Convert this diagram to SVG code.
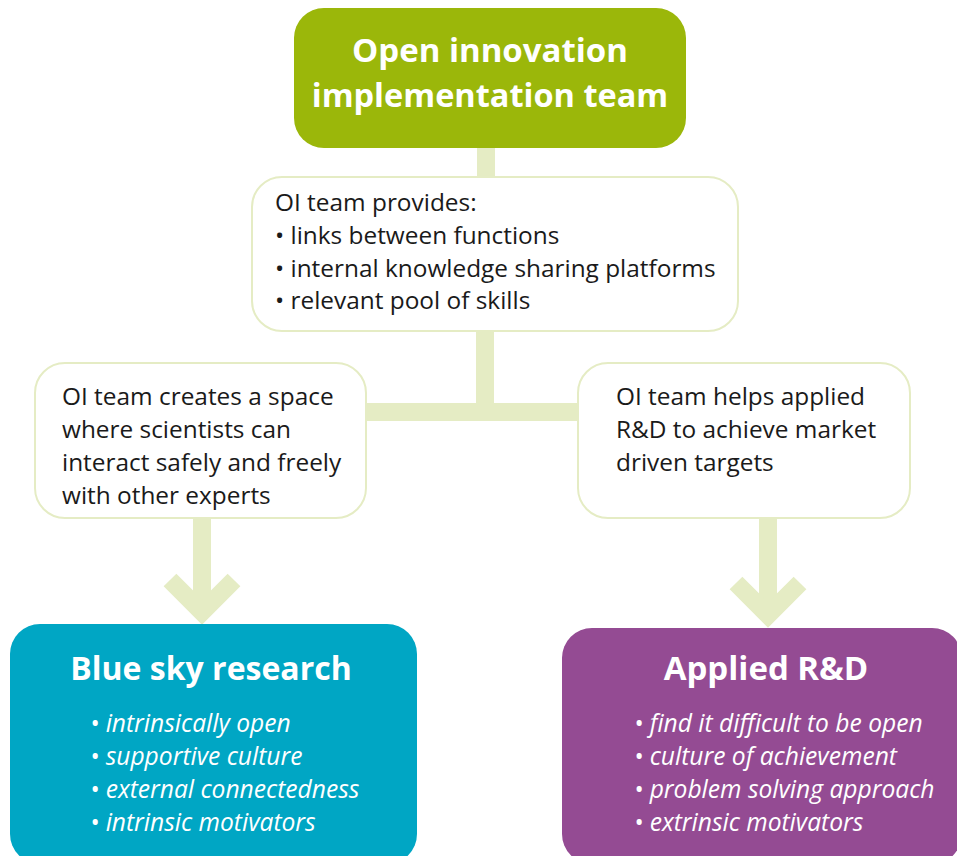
<svg xmlns="http://www.w3.org/2000/svg" width="957" height="856" viewBox="0 0 957 856">
<style>
.conn{fill:none;stroke:#e5ecc4;stroke-width:18}
.panel{fill:#ffffff;stroke:#e5ecc4;stroke-width:2}
.body{font-family:"Open Sans","Liberation Sans",sans-serif;font-size:24.4px;fill:#1a1a1a}
.title{font-family:"Open Sans","Liberation Sans",sans-serif;font-weight:bold;fill:#ffffff;text-anchor:middle}
.item{font-family:"Open Sans","Liberation Sans",sans-serif;font-size:24.6px;font-style:italic;fill:#ffffff}
</style>
<rect width="957" height="856" fill="#ffffff"/>
<g id="connectors">
<line class="conn" x1="486" y1="140" x2="486" y2="180"/>
<line class="conn" x1="485" y1="330" x2="485" y2="412"/>
<line class="conn" x1="360" y1="412" x2="585" y2="412"/>
<line class="conn" x1="202" y1="516" x2="202" y2="610"/>
<polyline class="conn" points="170,580 202,612 234,580" style="stroke-linejoin:miter"/>
<line class="conn" x1="768" y1="516" x2="768" y2="614"/>
<polyline class="conn" points="736,583 768,615 800,583" style="stroke-linejoin:miter"/>
</g>
<g id="oi-team">
<rect x="294" y="8" width="392" height="140" rx="30" fill="#9bb70a"/>
<text class="title" font-size="33" x="490" y="62">Open innovation</text>
<text class="title" font-size="32.5" x="490" y="107">implementation team</text>
</g>
<g id="provides">
<rect class="panel" x="252" y="177" width="486" height="154" rx="30"/>
<text class="body" x="275" y="211">OI team provides:</text>
<text class="body" x="275" y="244">• links between functions</text>
<text class="body" x="275" y="277">• internal knowledge sharing platforms</text>
<text class="body" x="275" y="309">• relevant pool of skills</text>
</g>
<g id="space">
<rect class="panel" x="35" y="363" width="331" height="155" rx="30"/>
<text class="body" x="62" y="405">OI team creates a space</text>
<text class="body" x="62" y="438">where scientists can</text>
<text class="body" x="62" y="471">interact safely and freely</text>
<text class="body" x="62" y="504">with other experts</text>
</g>
<g id="helps">
<rect class="panel" x="578" y="363" width="332" height="155" rx="30"/>
<text class="body" x="616" y="405">OI team helps applied</text>
<text class="body" x="616" y="438">R&amp;D to achieve market</text>
<text class="body" x="616" y="471">driven targets</text>
</g>
<g id="blue-sky">
<rect x="10" y="624" width="407" height="240" rx="30" fill="#00a6c4"/>
<text class="title" font-size="32" x="211" y="680">Blue sky research</text>
<text class="item" x="90" y="732">• intrinsically open</text>
<text class="item" x="90" y="765">• supportive culture</text>
<text class="item" x="90" y="798">• external connectedness</text>
<text class="item" x="90" y="831">• intrinsic motivators</text>
</g>
<g id="applied">
<rect x="562" y="628" width="400" height="236" rx="30" fill="#944b93"/>
<text class="title" font-size="33" x="766" y="680">Applied R&amp;D</text>
<text class="item" x="634" y="732">• find it difficult to be open</text>
<text class="item" x="634" y="765">• culture of achievement</text>
<text class="item" x="634" y="798">• problem solving approach</text>
<text class="item" x="634" y="831">• extrinsic motivators</text>
</g>
</svg>
